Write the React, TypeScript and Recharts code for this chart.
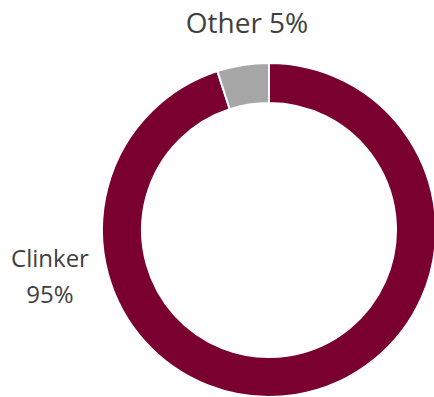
import { PieChart, Pie, Cell } from "recharts";

const categories = ["Clinker", "Other"];
const shares = [95, 5];
const colors = ["#7A0030", "#A6A6A6"];

const data = categories.map((name, i) => ({ name, value: shares[i] }));

const font = "'Open Sans', sans-serif";

function renderLabel(props: any) {
  const { cx, cy, outerRadius, name, value } = props;
  if (name === "Other") {
    return (
      <text x={cx - 22} y={cy - outerRadius - 30} textAnchor="middle" fill="#404040" fontSize={28} fontFamily={font}>
        {`${name} ${value}%`}
      </text>
    );
  }
  const x = cx - outerRadius - 52;
  return (
    <text x={x} y={cy + 37} textAnchor="middle" fill="#404040" fontSize={24} fontFamily={font}>
      <tspan x={x}>{name}</tspan>
      <tspan x={x} dy={36}>{`${value}%`}</tspan>
    </text>
  );
}

export default function App() {
  return (
    <div style={{ position: "absolute", left: 0, top: 0, width: 434, height: 397, background: "#fff" }}>
      <PieChart width={434} height={397} margin={{ top: 0, right: 0, bottom: 0, left: 0 }}>
        <Pie
          data={data}
          dataKey="value"
          nameKey="name"
          cx={269}
          cy={230}
          innerRadius={127}
          outerRadius={167}
          startAngle={90}
          endAngle={-270}
          stroke="#fff"
          strokeWidth={2}
          label={renderLabel}
          labelLine={false}
          isAnimationActive={false}
        >
          {data.map((d, i) => (
            <Cell key={d.name} fill={colors[i]} />
          ))}
        </Pie>
      </PieChart>
    </div>
  );
}
